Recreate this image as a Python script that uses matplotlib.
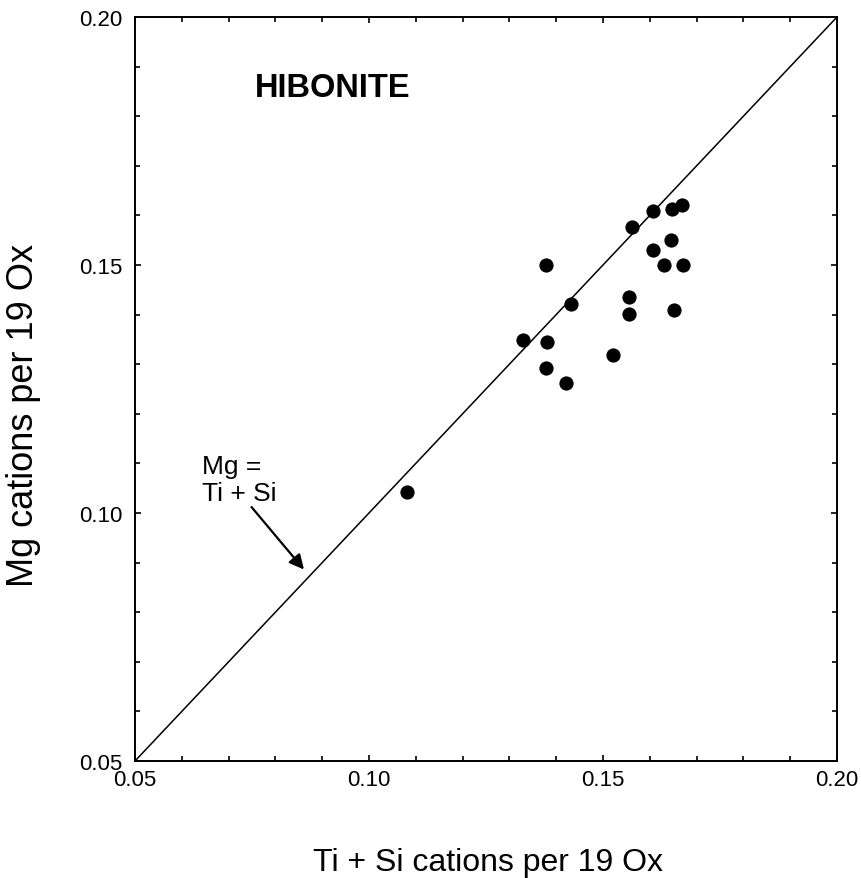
import matplotlib
matplotlib.use("Agg")
import matplotlib.pyplot as plt
from matplotlib.ticker import MultipleLocator, FixedLocator

plt.rcParams['font.family'] = ['Liberation Sans', 'DejaVu Sans']

# Data: Ti+Si (x) vs Mg (y) cations per 19 O
ti_si = [0.1378, 0.1432, 0.1330, 0.1381, 0.1378, 0.1422, 0.1521, 0.1555,
         0.1555, 0.1562, 0.1607, 0.1607, 0.1645, 0.1630, 0.1672, 0.1651,
         0.1647, 0.1668, 0.1081]
mg = [0.1501, 0.1421, 0.1349, 0.1344, 0.1292, 0.1262, 0.1318, 0.1436,
      0.1402, 0.1576, 0.1609, 0.1530, 0.1550, 0.1501, 0.1501, 0.1409,
      0.1613, 0.1621, 0.1042]
one_to_one = [0.05, 0.20]
major_ticks = [0.05, 0.10, 0.15, 0.20]
tick_labels = ["0.05", "0.10", "0.15", "0.20"]

fig = plt.figure(figsize=(8.62, 8.79), dpi=100)
ax = fig.add_axes([135/862, 1-762/879, 702/862, 744/879])

ax.plot(one_to_one, one_to_one, color='black', lw=1.1, zorder=2)
ax.scatter(ti_si, mg, s=105, color='black', zorder=3, linewidths=0)

ax.set_xlim(0.05, 0.20)
ax.set_ylim(0.05, 0.20)
ax.xaxis.set_major_locator(FixedLocator(major_ticks))
ax.yaxis.set_major_locator(FixedLocator(major_ticks))
ax.set_xticklabels(tick_labels)
ax.set_yticklabels(tick_labels)
ax.xaxis.set_minor_locator(MultipleLocator(0.01))
ax.yaxis.set_minor_locator(MultipleLocator(0.01))
ax.tick_params(which='both', direction='in', top=True, right=True,
               width=1.2, labelsize=16, color='black')
ax.tick_params(which='major', length=4)
ax.tick_params(which='minor', length=3.5)
ax.tick_params(axis='y', pad=9)
ax.tick_params(axis='x', pad=6)
for sp in ax.spines.values():
    sp.set_linewidth(1.4)

ax.text(0.0756, 0.1889, "HIBONITE", fontsize=23.5, fontweight='bold',
        ha='left', va='top')
ax.text(0.0643, 0.1119, "Mg =\nTi + Si", fontsize=19, ha='left', va='top',
        linespacing=1.15)
ax.annotate("", xy=(0.0861, 0.0886), xytext=(0.0749, 0.1012),
            arrowprops=dict(arrowstyle='-|>', color='black', lw=1.6,
                            mutation_scale=22, shrinkA=0, shrinkB=0))

fig.text(488/862, 1-871/879, "Ti + Si cations per 19 Ox", fontsize=23,
         ha='center', va='baseline')
fig.text(24/862, 1-415/879, "Mg cations per 19 Ox", fontsize=26,
         ha='center', va='center', rotation=90)

fig.savefig("out.png", dpi=100)
